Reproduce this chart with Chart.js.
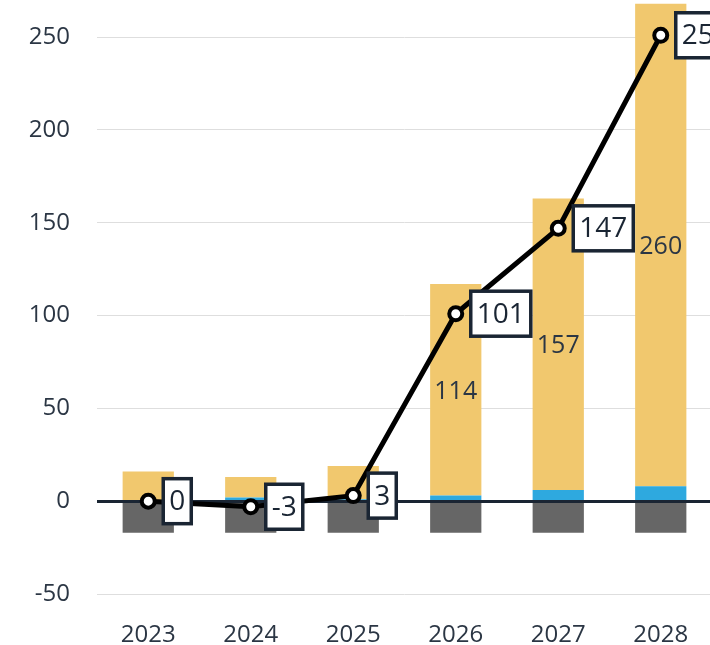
<!DOCTYPE html>
<html>
<head>
<meta charset="utf-8">
<script src="https://cdn.jsdelivr.net/npm/chart.js@4"></script>
<style>
  html, body { margin: 0; padding: 0; background: #fff; overflow: hidden; }
</style>
</head>
<body>
<canvas id="chart" width="720" height="645"></canvas>
<script>
// data
const years = ['2023', '2024', '2025', '2026', '2027', '2028'];
const greyPart = [-17, -17, -17, -17, -17, -17];
const bluePart = [0, 2, 1, 3, 6, 8];
const yellowPart = [16, 11, 18, 114, 157, 260];
const netLine = [0, -3, 3, 101, 147, 251];
const yTickValues = [-50, 0, 50, 100, 150, 200, 250];

const FONT = '"Open Sans", "DejaVu Sans", sans-serif';
const NAVY = '#1a2533';
const TEXT = '#2b3644';

const labelPlugin = {
    id: 'labels',
    beforeDatasetDraw(chart, args) {
        // zero line sits over the bars, under the net line
        if (args.index !== 0) return;
        const { ctx, chartArea, scales } = chart;
        const y0 = Math.round(scales.y.getPixelForValue(0)) + 0.5;
        ctx.save();
        ctx.strokeStyle = NAVY;
        ctx.lineWidth = 3;
        ctx.beginPath();
        ctx.moveTo(chartArea.left, y0);
        ctx.lineTo(chartArea.right, y0);
        ctx.stroke();
        ctx.restore();
    },
    afterDatasetsDraw(chart) {
        const { ctx } = chart;
        ctx.save();

        // yellow segment values, only where the bar is tall enough
        const yMeta = chart.getDatasetMeta(3);
        ctx.font = '25px ' + FONT;
        ctx.fillStyle = TEXT;
        ctx.textAlign = 'center';
        ctx.textBaseline = 'middle';
        yMeta.data.forEach((bar, i) => {
            if (yellowPart[i] < 50) return;
            const p = bar.getProps(['x', 'y', 'base'], true);
            ctx.fillText(String(yellowPart[i]), p.x, (p.y + p.base) / 2 + 2);
        });

        // boxed net values to the right of each point
        const lMeta = chart.getDatasetMeta(0);
        ctx.font = '28px ' + FONT;
        lMeta.data.forEach((pt, i) => {
            const txt = String(netLine[i]);
            const w = ctx.measureText(txt).width;
            const bw = w + 12, bh = 45;
            const bx = pt.x + 15, by = pt.y - bh / 2;
            ctx.fillStyle = '#fff';
            ctx.fillRect(bx, by, bw, bh);
            ctx.strokeStyle = NAVY;
            ctx.lineWidth = 3.5;
            ctx.strokeRect(bx, by, bw, bh);
            ctx.fillStyle = NAVY;
            ctx.textAlign = 'left';
            ctx.fillText(txt, bx + 6, pt.y + 1);
        });
        ctx.restore();
    }
};

new Chart(document.getElementById('chart'), {
    data: {
        labels: years,
        datasets: [
            {
                type: 'line',
                data: netLine,
                borderColor: '#000',
                borderWidth: 5,
                pointRadius: 6.5,
                pointBorderWidth: 4,
                pointBackgroundColor: '#fff',
                pointBorderColor: '#000',
                tension: 0,
                stack: 'net',
                clip: false
            },
            { type: 'bar', data: greyPart, backgroundColor: '#666666', stack: 'bars' },
            { type: 'bar', data: bluePart, backgroundColor: '#2ea9df', stack: 'bars' },
            { type: 'bar', data: yellowPart, backgroundColor: '#f1c86e', stack: 'bars' }
        ]
    },
    options: {
        responsive: false,
        animation: false,
        events: [],
        categoryPercentage: 1,
        barPercentage: 0.5,
        layout: { autoPadding: false, padding: { top: 0, right: 8, left: 0, bottom: 0 } },
        plugins: {
            legend: { display: false },
            tooltip: { enabled: false }
        },
        scales: {
            x: {
                stacked: true,
                grid: { display: false },
                border: { display: false },
                ticks: { color: TEXT, font: { family: FONT, size: 24 }, padding: 19 },
                afterFit: s => { s.height = 51; }
            },
            y: {
                stacked: true,
                min: -50,
                max: 270,
                afterBuildTicks: s => { s.ticks = yTickValues.map(v => ({ value: v })); },
                afterFit: s => { s.width = 97; s.paddingTop = 0; s.paddingBottom = 0; },
                border: { display: false },
                grid: {
                    drawTicks: false,
                    color: ctx => (ctx.tick && ctx.tick.value === 0) ? 'rgba(0,0,0,0)' : '#dedede',
                    lineWidth: 1
                },
                ticks: { color: TEXT, font: { family: FONT, size: 24 }, padding: 27 }
            }
        }
    },
    plugins: [labelPlugin]
});
</script>
</body>
</html>
